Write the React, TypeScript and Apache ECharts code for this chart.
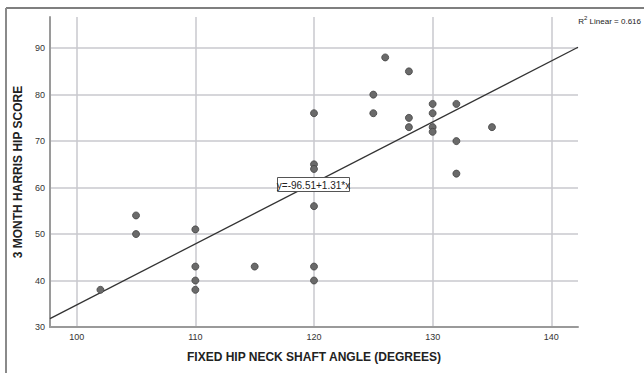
import React, { useEffect, useRef } from "react";
import * as echarts from "echarts";

// Scatter points: fixed hip neck shaft angle (degrees) vs 3 month Harris hip score
const angles = [102, 105, 105, 110, 110, 110, 110, 115, 120, 120, 120, 120, 120, 120, 125, 125, 126, 128, 128, 128, 130, 130, 130, 130, 132, 132, 132, 135];
const scores = [38, 54, 50, 51, 43, 40, 38, 43, 76, 65, 64, 56, 43, 40, 80, 76, 88, 85, 75, 73, 78, 76, 73, 72, 78, 70, 63, 73];

// Fit line endpoints (y = -96.51 + 1.31*x)
const fitX = [97.75, 142.25];
const fitY = [31.8, 90.2];

const xTicks = [100, 110, 120, 130, 140];
const yTicks = [30, 40, 50, 60, 70, 80, 90];

const equationLabel = "y=-96.51+1.31*x";
const r2Value = "0.616";

export default function App() {
  const ref = useRef<HTMLDivElement>(null);
  useEffect(() => {
    if (!ref.current) return;
    const chart = echarts.init(ref.current, undefined, { renderer: "svg" });
    const font = "'Liberation Sans', Arial, sans-serif";
    chart.setOption({
      animation: false,
      backgroundColor: "#ffffff",
      grid: { left: 50, right: 66, top: 17, bottom: 46, containLabel: false },
      xAxis: {
        type: "value",
        min: fitX[0],
        max: fitX[1],
        name: "FIXED HIP NECK SHAFT ANGLE (DEGREES)",
        nameLocation: "middle",
        nameGap: 24,
        nameTextStyle: { fontFamily: font, fontWeight: "bold", fontSize: 12, color: "#222" },
        axisLine: { show: true, lineStyle: { color: "#9a9a9a", width: 2 } },
        axisTick: { show: false },
        axisLabel: {
          fontFamily: font,
          fontSize: 9,
          color: "#333",
          margin: 5,
          showMinLabel: false,
          showMaxLabel: false,
          formatter: (v: number) => (xTicks.includes(Math.round(v * 100) / 100) ? String(v) : ""),
        },
        splitLine: { show: true, showMinLine: false, showMaxLine: false, lineStyle: { color: "#c8c8ce", width: 1.5 } },
      },
      yAxis: {
        type: "value",
        min: yTicks[0],
        max: 96.7,
        interval: 10,
        name: "3 MONTH HARRIS HIP SCORE",
        nameLocation: "middle",
        nameGap: 25,
        nameTextStyle: { fontFamily: font, fontWeight: "bold", fontSize: 12, color: "#222" },
        axisLine: { show: true, lineStyle: { color: "#9a9a9a", width: 2 } },
        axisTick: { show: false },
        axisLabel: {
          fontFamily: font,
          fontSize: 9,
          color: "#333",
          margin: 5,
          showMaxLabel: false,
          formatter: (v: number) => (yTicks.includes(Math.round(v * 100) / 100) ? String(v) : ""),
        },
        splitLine: { show: true, showMinLine: false, showMaxLine: false, lineStyle: { color: "#c8c8ce", width: 1.5 } },
      },
      series: [
        {
          type: "line",
          data: fitX.map((x, i) => [x, fitY[i]]),
          showSymbol: false,
          symbol: "none",
          lineStyle: { color: "#333", width: 1.3 },
          z: 3,
          silent: true,
        },
        {
          type: "scatter",
          data: angles.map((a, i) => [a, scores[i]]),
          symbol: "circle",
          symbolSize: 7,
          itemStyle: { color: "#6a6a6a", borderColor: "#444", borderWidth: 0.8, opacity: 1 },
          z: 4,
        },
      ],
      graphic: [
        {
          type: "line",
          shape: { x1: 6, y1: 8, x2: 644, y2: 8 },
          style: { stroke: "#555", lineWidth: 1.5 },
        },
        {
          type: "line",
          shape: { x1: 6, y1: 8, x2: 6, y2: 373 },
          style: { stroke: "#8a8a8a", lineWidth: 2 },
        },
        {
          type: "rect",
          x: 277.5,
          y: 177.5,
          z: 100,
          zlevel: 1,
          shape: { x: 0, y: 0, width: 72, height: 14 },
          style: { fill: "#fff", stroke: "#555", lineWidth: 1 },
        },
        {
          type: "text",
          x: 313.5,
          y: 185,
          z: 101,
          zlevel: 1,
          style: {
            text: equationLabel,
            fontFamily: font,
            fontSize: 10,
            fill: "#222",
            align: "center",
            verticalAlign: "middle",
          },
        },
        {
          type: "text",
          right: 3,
          top: 15,
          style: {
            text: "{a|R}{s|2}{a| Linear = " + r2Value + "}",
            rich: {
              a: { fontFamily: font, fontSize: 8, fill: "#222", verticalAlign: "bottom", lineHeight: 10 },
              s: { fontFamily: font, fontSize: 6, fill: "#222", verticalAlign: "top", lineHeight: 10 },
            },
          },
        },
      ],
    });
    return () => chart.dispose();
  }, []);
  return <div ref={ref} style={{ width: 644, height: 373, position: "absolute", left: 0, top: 0 }} />;
}
